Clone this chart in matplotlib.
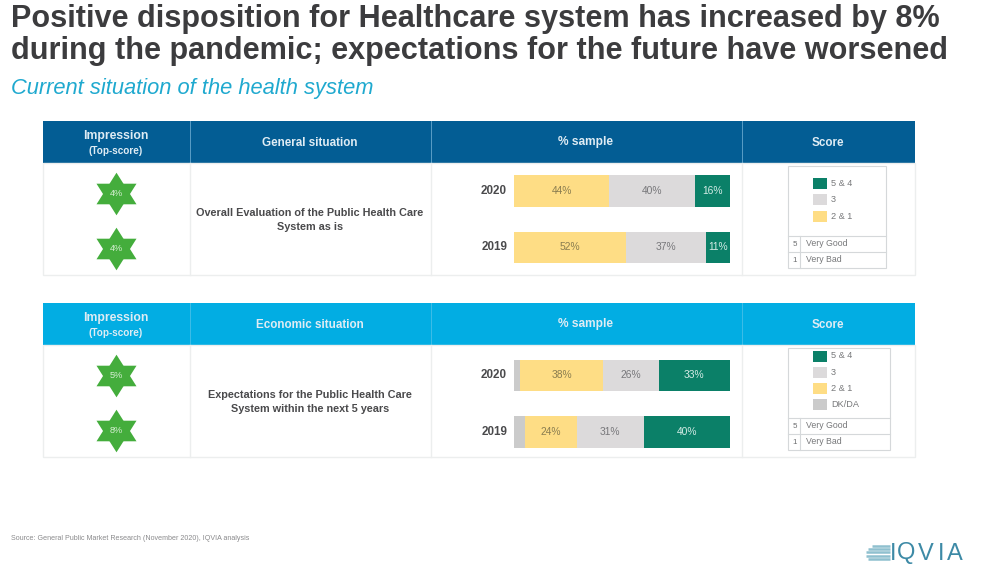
import matplotlib
matplotlib.use("Agg")
import matplotlib.pyplot as plt
from matplotlib.patches import Rectangle

plt.rcParams["font.family"] = ["Liberation Sans", "DejaVu Sans"]

W, H = 1000, 568

TITLE = ("Positive disposition for Healthcare system has increased by 8%\n"
         "during the pandemic; expectations for the future have worsened")
SUBTITLE = "Current situation of the health system"
SOURCE = "Source: General Public Market Research (November 2020), IQVIA analysis"

YEARS = ["2020", "2019"]

# top table
TOP_IMPRESSION = ["4%", "4%"]
TOP_SEGMENTS = ["2 & 1", "3", "5 & 4"]
TOP_VALUES = {"2 & 1": [44, 52], "3": [40, 37], "5 & 4": [16, 11]}
TOP_HEADER = "General situation"
TOP_ROW = "Overall Evaluation of the Public Health Care\nSystem as is"

# bottom table
BOTTOM_IMPRESSION = ["5%", "8%"]
BOTTOM_SEGMENTS = ["DK/DA", "2 & 1", "3", "5 & 4"]
BOTTOM_VALUES = {"DK/DA": [3, 5], "2 & 1": [38, 24], "3": [26, 31], "5 & 4": [33, 40]}
BOTTOM_HEADER = "Economic situation"
BOTTOM_ROW = "Expectations for the Public Health Care\nSystem within the next 5 years"

COLORS = {"5 & 4": "#0b8068", "3": "#dcdadb", "2 & 1": "#fedd85", "DK/DA": "#cbcbcb"}
VALUE_COLORS = {"5 & 4": "#d5ece6", "3": "#77777a", "2 & 1": "#8a7d50"}
DARK_BLUE = "#035d94"
LIGHT_BLUE = "#02ade3"
GREEN = "#44ad3c"
LINE = "#eceeee"
KEY_LINE = "#d5d8da"
TEXT = "#4a4a4c"
HEAD_TEXT = "#dfecf4"

# six pointed star, built from two overlapping triangles
STAR_UP = [(-1, -0.79), (1, -0.79), (0, 0.79)]
STAR_DOWN = [(-1, 0.79), (1, 0.79), (0, -0.79)]

fig = plt.figure(figsize=(W / 100, H / 100), dpi=100)
# page axes in pixels, top-left origin
page = fig.add_axes([0, 0, 1, 1])
page.set_xlim(0, W)
page.set_ylim(H, 0)
page.axis("off")


def px_axes(x0, y0, x1, y1):
    return fig.add_axes([x0 / W, 1 - y1 / H, (x1 - x0) / W, (y1 - y0) / H])


def draw_bars(first_center, segments, values):
    ax = px_axes(514, first_center - 28.25, 730, first_center + 84.75)
    ax.set_xlim(0, 100)
    ax.set_ylim(1.5, -0.5)
    ax.axis("off")
    ax.patch.set_alpha(0)
    left = [0, 0]
    for seg in segments:
        vals = values[seg]
        ax.barh([0, 1], vals, left=left, height=0.55, color=COLORS[seg], linewidth=0)
        if seg != "DK/DA":
            for i, v in enumerate(vals):
                ax.text(left[i] + v / 2, i, f"{v}%", ha="center", va="center",
                        fontsize=7.4, color=VALUE_COLORS[seg])
        left = [a + b for a, b in zip(left, vals)]
    for i, year in enumerate(YEARS):
        ax.text(-3.2, i, year, ha="right", va="center", fontsize=8.4,
                fontweight="bold", color=TEXT)


def draw_star(x, y, label):
    page.plot([x], [y - 5.25], marker=STAR_UP, ms=28.8, color=GREEN, mew=0, ls="none")
    page.plot([x], [y + 5.25], marker=STAR_DOWN, ms=28.8, color=GREEN, mew=0, ls="none")
    page.text(x, y, label, ha="center", va="center", fontsize=6.6, color="#d7efd3")


def draw_table(top, color, header, row_text, impression):
    head_b, body_b = top + 42, top + 154
    page.add_patch(Rectangle((43, top), 872, 42, color=color, lw=0))
    page.add_patch(Rectangle((43, head_b), 872, 112, fill=False, ec=LINE, lw=1))
    for x in (190, 431, 742):
        page.plot([x, x], [top, head_b], color="#5a9dc6" if color == DARK_BLUE else "#3dbde8", lw=0.7)
        page.plot([x, x], [head_b, body_b], color=LINE, lw=1)
    mid = top + 21.5
    page.text(116, mid - 6, "Impression", ha="center", va="center", color=HEAD_TEXT,
              fontsize=8.8, fontweight="bold")
    page.text(116, mid + 8, "(Top-score)", ha="center", va="center", color=HEAD_TEXT,
              fontsize=7.2, fontweight="bold")
    page.text(310, mid, header, ha="center", va="center", color=HEAD_TEXT,
              fontsize=8.4, fontweight="bold")
    page.text(586, mid, "% sample", ha="center", va="center", color=HEAD_TEXT,
              fontsize=8.6, fontweight="bold")
    page.text(828, mid, "Score", ha="center", va="center", color=HEAD_TEXT,
              fontsize=8.4, fontweight="bold")
    page.text(310, top + 99, row_text, ha="center", va="center", color=TEXT,
              fontsize=7.8, fontweight="bold", linespacing=1.44)
    draw_star(116, top + 72.5, impression[0])
    draw_star(116, top + 127.5, impression[1])


def draw_key(x0, x1, y0, labels):
    # score legend box with the two scale rows underneath
    rows = y0 + 70
    page.add_patch(Rectangle((x0, y0), x1 - x0, 102, fill=False, ec=KEY_LINE, lw=0.8))
    page.plot([x0, x1], [rows, rows], color=KEY_LINE, lw=0.8)
    page.plot([x0, x1], [rows + 16, rows + 16], color=KEY_LINE, lw=0.8)
    page.plot([x0 + 12, x0 + 12], [rows, rows + 32], color=KEY_LINE, lw=0.8)
    for i, (num, word) in enumerate([("5", "Very Good"), ("1", "Very Bad")]):
        y = rows + 8 + i * 16
        page.text(x0 + 7, y, num, ha="center", va="center", fontsize=5.8, color="#6d6e70")
        page.text(x0 + 18, y, word, ha="left", va="center", fontsize=6.3, color="#77787a")
    start = y0 + 17.5 if len(labels) == 3 else y0 + 8
    for i, lab in enumerate(labels):
        y = start + i * 16.3
        page.add_patch(Rectangle((813, y - 5.5), 14, 11, color=COLORS[lab], lw=0))
        page.text(831, y, lab, ha="left", va="center", fontsize=6.6, color="#77787a")


# titles
page.text(11, 35, TITLE, ha="left", va="center", fontsize=22.1, fontweight="bold",
          color="#3c3c3e", linespacing=1.12)
page.text(11, 88.5, SUBTITLE, ha="left", va="center", fontsize=15.75, style="italic",
          color="#1fa9cf")

draw_table(121, DARK_BLUE, TOP_HEADER, TOP_ROW, TOP_IMPRESSION)
draw_table(303, LIGHT_BLUE, BOTTOM_HEADER, BOTTOM_ROW, BOTTOM_IMPRESSION)

draw_bars(191, TOP_SEGMENTS, TOP_VALUES)
draw_bars(375.5, BOTTOM_SEGMENTS, BOTTOM_VALUES)

draw_key(788, 886, 166, ["5 & 4", "3", "2 & 1"])
draw_key(788, 890, 348, ["5 & 4", "3", "2 & 1", "DK/DA"])

# footer
page.text(11, 538, SOURCE, ha="left", va="center", fontsize=5.15, color="#8a8a8c")
for i, x0 in enumerate([872, 868, 866, 866, 868]):
    y = 546 + i * 3.2
    page.plot([x0, 890], [y, y], color="#8fc0cf", lw=1.8, solid_capstyle="butt")
for letter, x in zip("IQVIA", [893.5, 906, 926, 941, 955]):
    page.text(x, 553.5, letter, ha="center", va="center", fontsize=17, color="#3d8aa6")

fig.savefig("out.png", dpi=100)
